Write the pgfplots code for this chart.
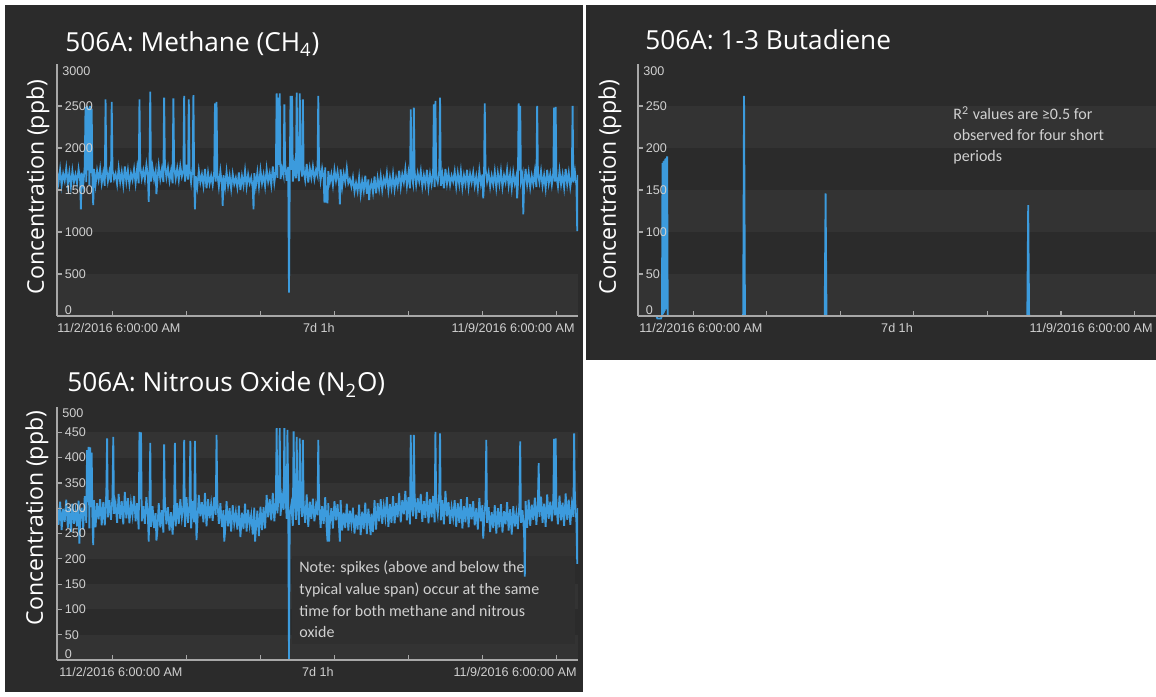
\documentclass[border=0pt]{standalone}
\usepackage{pgfplots}
\usepackage{pgfplotstable}
\pgfplotsset{compat=1.18}
\usepackage{fontspec}
\setmainfont{Liberation Sans}
\newfontfamily\titlefont{Open Sans}
\newfontfamily\notefont{Carlito}
\definecolor{panelbg}{HTML}{2B2B2B}
\definecolor{stripe}{HTML}{333333}
\definecolor{series}{HTML}{3C9BDD}
\definecolor{ticklab}{HTML}{D0D0D0}
\definecolor{axline}{HTML}{A8A8A8}
\definecolor{notebox}{HTML}{2F2F2F}

\pgfplotstableread[row sep=\\]{
x y\\
0 1720\\0.5 1590\\1 1745\\1.5 1555\\2 1695\\2.5 1610\\3 1760\\3.5 1570\\4 1710\\4.5 1540\\
5 1730\\5.5 1595\\6 1685\\6.5 1580\\7 1750\\7.5 1620\\7.75 1270\\8 1705\\8.5 1560\\
9 1780\\9.25 2490\\9.5 1595\\9.75 2500\\10 1735\\10.25 2480\\10.5 1560\\10.75 2500\\11 1700\\11.25 2470\\11.5 1600\\11.75 1320\\
12 1750\\12.5 1565\\13 1730\\13.5 1620\\14 1755\\14.5 1580\\15 1705\\15.5 1550\\15.75 2580\\16 1770\\16.5 1605\\
17 1720\\17.5 1590\\17.75 2550\\18 1740\\18.5 1630\\19 1695\\19.5 1570\\20 1760\\20.5 1595\\21 1715\\21.5 1560\\
22 1780\\22.5 1600\\23 1735\\23.5 1565\\24 1700\\24.5 1620\\25 1750\\25.5 1580\\26 1760\\26.5 1580\\26.75 2580\\
27 1785\\27.5 1635\\28 1735\\28.5 1620\\29 1800\\29.5 1660\\29.75 1360\\30 1750\\30.25 2670\\30.5 1600\\
31 1770\\31.5 1625\\32 1725\\32.25 1450\\32.5 1590\\33 1790\\33.5 1630\\34 1745\\34.5 1595\\34.75 2600\\
35 1810\\35.5 1650\\36 1765\\36.5 1610\\37 1730\\37.5 1580\\37.75 2590\\38 1780\\38.5 1635\\39 1760\\39.5 1620\\
40 1785\\40.5 1660\\41 1735\\41.25 2620\\41.5 1600\\42 1800\\42.5 1625\\42.75 2580\\43 1750\\43.5 1590\\
44 1770\\44.25 2630\\44.5 1630\\44.75 1270\\45 1665\\45.5 1535\\46 1730\\46.5 1590\\47 1685\\47.5 1550\\
48 1750\\48.5 1520\\49 1705\\49.5 1575\\50 1670\\50.5 1560\\51 1720\\51.25 2530\\51.5 1600\\51.75 2550\\
52 1700\\52.5 1540\\53 1725\\53.5 1565\\53.75 1310\\54 1675\\54.5 1530\\55 1720\\55.5 1550\\56 1670\\56.5 1515\\
57 1690\\57.5 1570\\58 1645\\58.5 1530\\59 1710\\59.5 1500\\60 1665\\60.5 1555\\61 1730\\61.5 1540\\
62 1685\\62.5 1580\\63 1650\\63.5 1520\\63.75 1270\\64 1700\\64.5 1545\\65 1710\\65.5 1540\\66 1735\\66.5 1580\\
67 1685\\67.5 1545\\68 1750\\68.5 1600\\69 1700\\69.5 1560\\70 1780\\70.5 1590\\71 1735\\71.25 2650\\71.5 1645\\71.75 2600\\
72 1800\\72.25 2650\\72.5 1630\\73 1755\\73.5 1670\\73.75 2520\\74 1820\\74.5 1610\\75 1775\\75.25 277\\75.5 1635\\75.75 2620\\
76 1740\\76.25 2620\\76.5 1600\\77 1790\\77.5 1640\\77.75 2660\\78 1770\\78.5 1605\\78.75 2650\\79 1795\\79.5 1660\\79.75 2580\\
80 1745\\80.5 1620\\81 1810\\81.5 1590\\82 1760\\82.5 1645\\83 1780\\83.5 1630\\84 1735\\84.5 1670\\84.75 2620\\
85 1800\\85.5 1610\\86 1755\\86.5 1635\\86.75 1350\\87 1770\\87.25 1350\\87.5 1550\\87.75 1340\\88 1725\\88.5 1590\\
89 1690\\89.5 1555\\90 1740\\90.5 1610\\91 1720\\91.5 1570\\91.75 1330\\92 1745\\92.5 1540\\93 1695\\93.5 1595\\
94 1760\\94.5 1580\\95 1630\\95.5 1540\\96 1650\\96.5 1480\\97 1585\\97.5 1485\\98 1650\\98.5 1450\\
99 1605\\99.5 1490\\100 1670\\100.5 1455\\101 1625\\101.25 1380\\101.5 1510\\102 1590\\102.5 1470\\
103 1660\\103.5 1460\\104 1640\\104.5 1515\\105 1665\\105.5 1500\\106 1635\\106.5 1560\\107 1700\\107.5 1500\\
108 1650\\108.5 1525\\109 1690\\109.5 1510\\110 1645\\110.5 1550\\111 1730\\111.5 1535\\112 1685\\112.5 1590\\
113 1750\\113.5 1550\\114 1705\\114.5 1520\\114.75 2460\\115 1670\\115.5 1575\\115.75 2480\\116 1720\\116.5 1560\\
117 1700\\117.5 1600\\118 1725\\118.5 1540\\119 1675\\119.5 1565\\120 1740\\120.5 1530\\121 1690\\121.5 1570\\
122 1710\\122.25 2520\\122.5 1535\\122.75 2560\\123 1665\\123.5 1590\\124 1730\\124.25 2600\\124.5 1550\\
125 1685\\125.5 1520\\126 1750\\126.5 1575\\127 1705\\127.5 1560\\128 1670\\128.5 1600\\129 1720\\129.5 1540\\
130 1700\\130.5 1565\\131 1725\\131.5 1530\\132 1675\\132.5 1570\\133 1740\\133.5 1535\\134 1690\\134.5 1590\\
135 1710\\135.5 1550\\136 1665\\136.5 1520\\137 1730\\137.5 1575\\138 1685\\138.25 1400\\138.5 1560\\138.75 2530\\
139 1750\\139.5 1600\\140 1705\\140.5 1540\\141 1670\\141.5 1565\\142 1720\\142.5 1530\\143 1700\\143.5 1570\\
144 1725\\144.5 1535\\145 1675\\145.5 1590\\146 1740\\146.5 1550\\147 1690\\147.5 1520\\148 1710\\148.5 1575\\
149 1665\\149.25 1400\\149.5 1560\\149.75 2530\\150 1730\\150.25 2500\\150.5 1600\\151 1685\\151.25 1210\\151.5 1540\\
152 1750\\152.5 1565\\153 1705\\153.5 1530\\154 1670\\154.5 1570\\155 1720\\155.5 1535\\155.75 2500\\
156 1700\\156.5 1590\\157 1725\\157.5 1550\\158 1675\\158.5 1520\\159 1740\\159.5 1575\\160 1690\\160.5 1560\\
161 1710\\161.25 2480\\161.5 1600\\161.75 2490\\162 1665\\162.5 1540\\163 1730\\163.5 1565\\164 1685\\164.5 1530\\
165 1750\\165.5 1570\\166 1705\\166.5 1535\\167 1670\\167.25 2500\\167.5 1590\\168 1720\\168.5 1550\\168.75 1010\\169 1680\\
}\methane

\pgfplotstableread[row sep=\\]{
x y\\
0 305\\0.5 267\\1 313\\1.5 257\\2 299\\2.5 273\\3 317\\3.5 261\\4 303\\4.5 253\\5 309\\5.5 269\\6 295\\6.5 264\\
7 315\\7.25 230\\7.5 276\\8 301\\8.5 258\\9 324\\9.5 271\\9.75 415\\10 312\\10.25 421\\10.5 260\\10.75 420\\
11 302\\11.25 410\\11.5 272\\11.75 227\\12 316\\12.5 262\\13 310\\13.5 278\\14 318\\14.5 266\\15 312\\15.5 266\\
16 330\\16.25 438\\16.5 282\\17 316\\17.5 277\\18 322\\18.25 441\\18.5 289\\19 308\\19.5 271\\20 328\\20.5 279\\
21 314\\21.5 268\\22 332\\22.5 280\\23 320\\23.5 270\\24 310\\24.5 286\\25 324\\25.5 274\\26 310\\26.5 258\\26.75 451\\
27 318\\27.25 450\\27.5 274\\28 304\\28.5 269\\29 322\\29.5 281\\29.75 234\\30 308\\30.25 429\\30.5 263\\
31 304\\31.5 261\\32 290\\32.25 236\\32.5 250\\33 310\\33.5 262\\34 296\\34.5 252\\34.75 426\\35 314\\35.5 268\\
36 302\\36.5 256\\37 292\\37.5 248\\38 306\\38.25 429\\38.5 264\\39 310\\39.5 269\\40 318\\40.5 281\\
41 304\\41.25 435\\41.5 263\\42 322\\42.5 271\\43 308\\43.25 433\\43.5 260\\44 314\\44.5 272\\44.75 433\\
45 306\\45.25 237\\45.5 268\\46 326\\46.5 284\\47 312\\47.5 272\\48 330\\48.5 264\\49 318\\49.5 280\\
50 308\\50.5 275\\51 322\\51.5 287\\51.75 445\\52 316\\52.5 269\\53 310\\53.5 263\\54 296\\54.25 234\\54.5 252\\
55 314\\55.5 264\\56 300\\56.5 254\\57 306\\57.5 270\\58 292\\58.5 258\\59 305\\59.5 243\\60 291\\60.5 259\\
61 309\\61.5 254\\62 297\\62.5 266\\63 287\\63.5 248\\64 301\\64.25 234\\64.5 256\\65 295\\65.5 245\\66 303\\66.5 257\\
67 302\\67.5 260\\68 326\\68.5 282\\69 318\\69.5 276\\70 330\\70.5 274\\71 316\\71.25 458\\71.5 290\\
72 336\\72.25 458\\72.5 285\\73 322\\73.5 297\\73.75 458\\74 340\\74.5 279\\74.75 455\\75 328\\75.25 0\\75.5 287\\
76 307\\76.5 265\\76.75 452\\77 321\\77.5 277\\77.75 441\\78 315\\78.5 267\\78.75 438\\79 323\\79.5 283\\79.75 435\\
80 309\\80.5 271\\81 327\\81.5 263\\82 313\\82.5 279\\83 319\\83.5 274\\84 305\\84.5 286\\84.75 435\\
85 318\\85.5 261\\86 304\\86.5 269\\87 322\\87.5 258\\87.75 234\\88 310\\88.25 234\\88.5 270\\89 300\\89.5 260\\
90 314\\90.5 276\\91 308\\91.5 264\\91.75 234\\92 316\\92.5 256\\93 291\\93.5 261\\94 309\\94.5 256\\
95 295\\95.5 268\\96 301\\96.5 250\\97 287\\97.5 258\\98 307\\98.5 247\\99 293\\99.5 259\\100 311\\100.5 249\\
101 299\\101.5 265\\101.75 247\\102 289\\102.5 253\\103 316\\103.5 258\\104 310\\104.5 274\\105 318\\105.5 269\\
106 304\\106.5 281\\107 322\\107.5 263\\108 308\\108.5 271\\109 324\\109.5 270\\110 310\\110.5 282\\
111 330\\111.5 272\\112 316\\112.5 288\\113 334\\113.5 276\\114 322\\114.5 268\\114.75 445\\115 312\\115.5 284\\115.75 445\\
116 326\\116.5 279\\117 320\\117.5 291\\118 328\\118.5 273\\119 314\\119.5 281\\120 332\\120.5 270\\
121 318\\121.5 282\\122 324\\122.5 272\\122.75 451\\123 310\\123.5 288\\124 330\\124.25 448\\124.5 276\\
125 316\\125.5 268\\126 334\\126.5 284\\127 312\\127.5 269\\128 302\\128.5 281\\129 316\\129.5 263\\
130 310\\130.5 271\\131 318\\131.5 260\\132 304\\132.5 272\\133 322\\133.5 262\\134 308\\134.5 278\\
135 314\\135.5 266\\136 300\\136.5 258\\137 320\\137.5 274\\138 306\\138.25 240\\138.5 269\\139 314\\139.25 435\\139.5 271\\
140 302\\140.5 253\\141 292\\141.5 261\\142 306\\142.5 250\\143 300\\143.5 262\\144 308\\144.5 252\\
145 294\\145.5 268\\146 312\\146.5 256\\147 298\\147.5 248\\148 304\\148.5 264\\149 290\\149.5 259\\
150 310\\150.25 432\\150.5 271\\151 296\\151.5 253\\151.75 165\\152 314\\152.5 261\\153 317\\153.5 265\\
154 307\\154.5 277\\155 321\\155.5 267\\156 315\\156.25 389\\156.5 283\\157 323\\157.5 271\\158 309\\158.5 263\\
159 327\\159.5 279\\160 313\\160.5 274\\161 319\\161.25 437\\161.5 286\\161.75 438\\162 305\\162.5 268\\
163 325\\163.5 276\\164 311\\164.5 265\\165 329\\165.5 277\\166 317\\166.5 267\\167 307\\167.5 283\\167.75 448\\
168 321\\168.5 271\\168.75 190\\169 300\\
}\nitrous

\pgfplotstableread[row sep=\\]{
x y\\
0 0\\6 0\\6.3 -3\\7.5 -3\\7.8 0\\8.0 182\\8.15 2\\8.3 184\\8.45 4\\8.6 185\\8.75 6\\8.9 187\\9.05 8\\9.2 188\\9.35 20\\9.5 190\\9.7 0\\
34.3 0\\34.6 262\\34.9 0\\60.9 0\\61.2 146\\61.5 0\\127.0 0\\127.3 132\\127.6 0\\169 0\\
}\butadiene

\pgfplotsset{
  panel/.style={
    scale only axis, width=260.5pt, height=126pt, xmin=0, xmax=169,
    axis lines*=left, axis on top,
    axis line style={-, draw=axline, line width=0.7pt},
    tick align=inside, major tick length=2.5pt,
    every tick/.style={draw=axline, line width=0.6pt},
    xtick={18,42,66,90,114,138,162}, xticklabels={,,},
    ticklabel style={font=\fontsize{6.3}{7}\selectfont, text=ticklab},
    yticklabel style={anchor=west, xshift=0.4pt},
    /pgf/number format/assume math mode=true,
    /pgf/number format/1000 sep={},
    extra y ticks={0},
    extra tick style={major tick length=0pt, yticklabel style={yshift=3pt}},
  },
  ser/.style={color=series, line width=0.9pt, mark=none},
}

\begin{document}
\begin{tikzpicture}
\useasboundingbox (0,0) rectangle (578pt,348pt);
\fill[white] (0,0) rectangle (578pt,348pt);
% panels
\fill[panelbg] (2.5pt,2pt) rectangle (291.5pt,345.5pt);
\fill[panelbg] (293pt,168pt) rectangle (578pt,345.5pt);
% stripes panel 1 (500 per 21pt, base 190pt)
\fill[stripe] (28.5pt,274pt) rectangle (289pt,295pt);
\fill[stripe] (28.5pt,232pt) rectangle (289pt,253pt);
\fill[stripe] (28.5pt,190pt) rectangle (289pt,211pt);
% stripes panel 2
\fill[stripe] (319pt,274pt) rectangle (578pt,295pt);
\fill[stripe] (319pt,232pt) rectangle (578pt,253pt);
\fill[stripe] (319pt,190pt) rectangle (578pt,211pt);
% stripes panel 3 (50 per 12.65pt, base 18pt)
\fill[stripe] (28.5pt,119.2pt) rectangle (289pt,131.85pt);
\fill[stripe] (28.5pt,93.9pt) rectangle (289pt,106.55pt);
\fill[stripe] (28.5pt,68.6pt) rectangle (289pt,81.25pt);
\fill[stripe] (28.5pt,43.3pt) rectangle (289pt,55.95pt);
\fill[stripe] (28.5pt,18pt) rectangle (289pt,30.65pt);
% note box panel 3
\fill[notebox] (146pt,26pt) rectangle (287.5pt,70pt);
% notes
\begin{scope}[every node/.style={anchor=base west, inner sep=0pt, text=ticklab, font=\notefont\fontsize{8}{10}\selectfont}]
\node at (476.5pt,288pt) {R\textsuperscript{2} values are ≥0.5 for};
\node at (476.5pt,277.5pt) {observed for four short};
\node at (476.5pt,267pt) {periods};
\node at (149.5pt,61.5pt) {Note: spikes (above and below the};
\node at (149.5pt,50.5pt) {typical value span) occur at the same};
\node at (149.5pt,40pt) {time for both methane and nitrous};
\node at (149.5pt,29.5pt) {oxide};
\end{scope}

% ---- Methane
\begin{axis}[panel, at={(28.5pt,190pt)}, anchor=south west,
  ymin=0, ymax=3000, ytick={500,1000,1500,2000,2500}]
\addplot[ser] table {\methane};
\end{axis}
% ---- Butadiene
\begin{axis}[panel, at={(319pt,190pt)}, anchor=south west, width=259pt,
  ymin=0, ymax=300, ytick={50,100,150,200,250}, clip=false]
\addplot[ser] table {\butadiene};
\end{axis}
% ---- Nitrous oxide
\begin{axis}[panel, at={(28.5pt,18pt)}, anchor=south west, height=126.5pt,
  ymin=0, ymax=500, ytick={50,100,...,450}]
\addplot[ser] table {\nitrous};
\end{axis}

% top tick labels
\begin{scope}[every node/.style={anchor=west, inner sep=0pt, text=ticklab, font=\fontsize{6.3}{7}\selectfont}]
\node at (31pt,312.5pt) {3000};
\node at (321.5pt,312.5pt) {300};
\node at (31pt,141.5pt) {500};
\end{scope}
% x tick labels
\begin{scope}[every node/.style={inner sep=0pt, text=ticklab, font=\fontsize{6.3}{7}\selectfont}]
\node[anchor=west] at (28.5pt,184pt) {11/2/2016 6:00:00 AM};
\node at (159.5pt,184pt) {7d 1h};
\node[anchor=east] at (287.5pt,184pt) {11/9/2016 6:00:00 AM};
\node[anchor=west] at (319.5pt,184pt) {11/2/2016 6:00:00 AM};
\node at (448.5pt,184pt) {7d 1h};
\node[anchor=east] at (576.5pt,184pt) {11/9/2016 6:00:00 AM};
\node[anchor=west] at (29.5pt,12pt) {11/2/2016 6:00:00 AM};
\node at (159pt,12pt) {7d 1h};
\node[anchor=east] at (288.5pt,12pt) {11/9/2016 6:00:00 AM};
\end{scope}
% y labels
\begin{scope}[every node/.style={rotate=90, inner sep=0pt, text=white, font=\titlefont\fontsize{11.5}{13}\selectfont}]
\node at (19pt,254.5pt) {Concentration (ppb)};
\node at (305pt,254.5pt) {Concentration (ppb)};
\node at (18.5pt,89pt) {Concentration (ppb)};
\end{scope}
% titles
\begin{scope}[every node/.style={anchor=base west, inner sep=0pt, text=white, font=\titlefont\fontsize{13.1}{15}\selectfont}]
\node at (32.5pt,322pt) {506A: Methane (CH\textsubscript{4})};
\node at (322.5pt,323pt) {506A: 1-3 Butadiene};
\node at (33.5pt,152pt) {506A: Nitrous Oxide (N\textsubscript{2}O)};
\end{scope}
\end{tikzpicture}
\end{document}
